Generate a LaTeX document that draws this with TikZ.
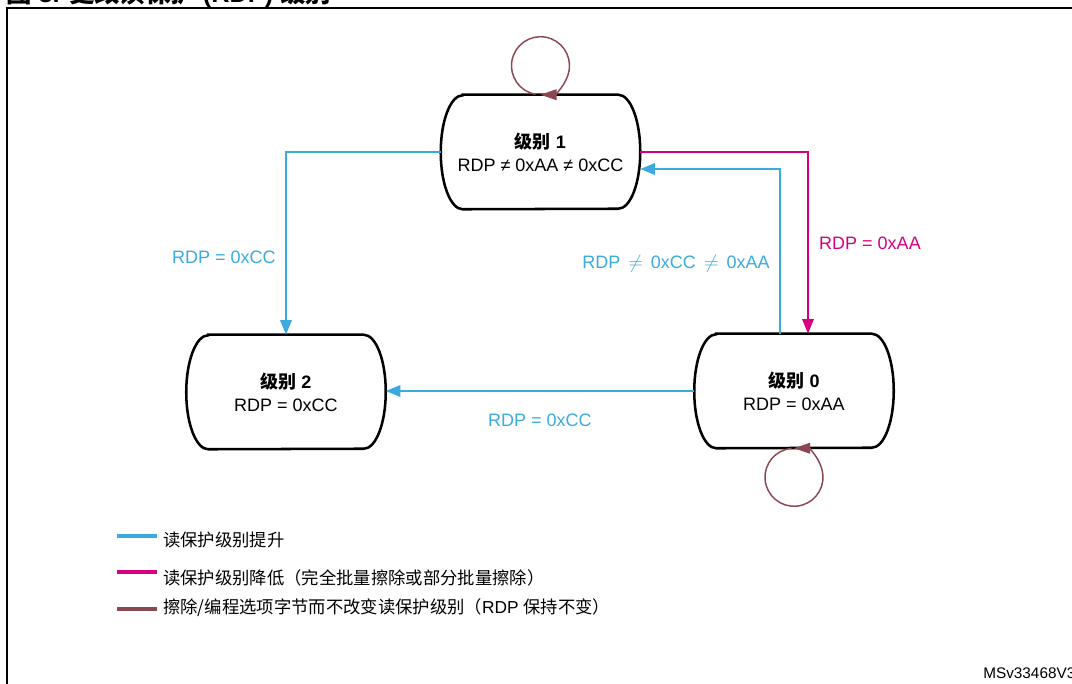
\documentclass[tikz,border=0pt]{standalone}
\usepackage{fontspec}
\setmainfont{Liberation Sans}
\newfontfamily\cjk{Noto Sans CJK SC}
\usetikzlibrary{arrows.meta}
\definecolor{upblue}{RGB}{59,170,220}
\definecolor{downpink}{RGB}{214,0,126}
\definecolor{keepred}{RGB}{140,72,82}
\newcommand\stadium[1]{\draw[stateline] ([xshift=16.5pt]#1.north west) -- ([xshift=-16.5pt]#1.north east) arc[start angle=90,end angle=-90,x radius=16.5pt,y radius=42.75pt] -- ([xshift=16.5pt]#1.south west) arc[start angle=270,end angle=90,x radius=16.5pt,y radius=42.75pt] -- cycle;}
\begin{document}
\begin{tikzpicture}[x=0.75pt,y=-0.75pt,
  state/.style={minimum width=149.25pt, minimum height=85.5pt, inner sep=0pt, align=center, font=\fontsize{13.5}{17.5}\selectfont},
  stateline/.style={draw=black, line width=1.9pt},
  conn/.style={line width=1.8pt, -{Triangle[length=11pt,width=8.5pt]}},
  keep/.style={keepred, line width=1.1pt, -{Triangle[length=12pt,width=8pt]}},
  lbl/.style={font=\fontsize{13.5}{16}\selectfont},
  legtext/.style={anchor=west, font=\fontsize{13}{16}\selectfont, inner sep=0pt},
  legline/.style={line width=2.5pt},
]
\useasboundingbox (0,0) rectangle (1072,684);
\draw[line width=1.1pt] (7,700) -- (7,8) -- (1090,8);
\node[anchor=base west, inner sep=0pt, font=\bfseries\fontsize{19}{22}\selectfont] (title) at (6,3) {{\cjk 图} 3. {\cjk 更改读保护} (RDP) {\cjk 级别}};

\node[state] (l1) at (540.5,152) {{\cjk\bfseries 级别} \textbf{1}\\RDP ≠ 0xAA ≠ 0xCC};
\node[state] (l2) at (286,392) {{\cjk\bfseries 级别} \textbf{2}\\RDP = 0xCC};
\node[state] (l0) at (794,391) {{\cjk\bfseries 级别} \textbf{0}\\RDP = 0xAA};
\stadium{l1}
\stadium{l2}
\stadium{l0}

\draw[conn, upblue] (l1.west) -| (l2.north);
\draw[conn, downpink] (l1.east) -| ([xshift=10.5pt]l0.north);
\draw[conn, upblue] ([xshift=-10.5pt]l0.north) |- ([yshift=-12.75pt]l1.east);
\draw[conn, upblue] (l0.west) -- (l0.west -| l2.east);

\draw[keep] ([shift={(-3.78pt,0.33pt)}]l1.north) arc[start angle=260,end angle=-90,radius=21.75pt];
\draw[keep] ([shift={(-1.9pt,-0.08pt)}]l0.south) arc[start angle=95,end angle=450,radius=21.75pt];

\node[lbl, text=upblue] (c1) at (224,257) {RDP = 0xCC};
\node[lbl, text=downpink] (c2) at (870,243) {RDP = 0xAA};
\node[lbl, text=upblue] (c3) at (676,264) {RDP\, $\neq$\, 0xCC\, $\neq$\, 0xAA};
\node[lbl, text=upblue] (c4) at (540,420) {RDP = 0xCC};

\node[legtext] (g1) at (163,540) {\cjk 读保护级别提升};
\node[legtext] (g2) at (163,578) {\cjk 读保护级别降低（完全批量擦除或部分批量擦除）};
\node[legtext] (g3) at (163,608) {{\cjk 擦除/编程选项字节而不改变读保护级别（}RDP {\cjk 保持不变）}};
\draw[legline, upblue] (117,536) -- (157,536);
\draw[legline, downpink] (117,572) -- (157,572);
\draw[legline, keepred] (117,609) -- (157,609);

\node[anchor=base west, inner sep=0pt, font=\fontsize{11.5}{14}\selectfont] (ref) at (983,678) {MSv33468V3};
\end{tikzpicture}
\end{document}
